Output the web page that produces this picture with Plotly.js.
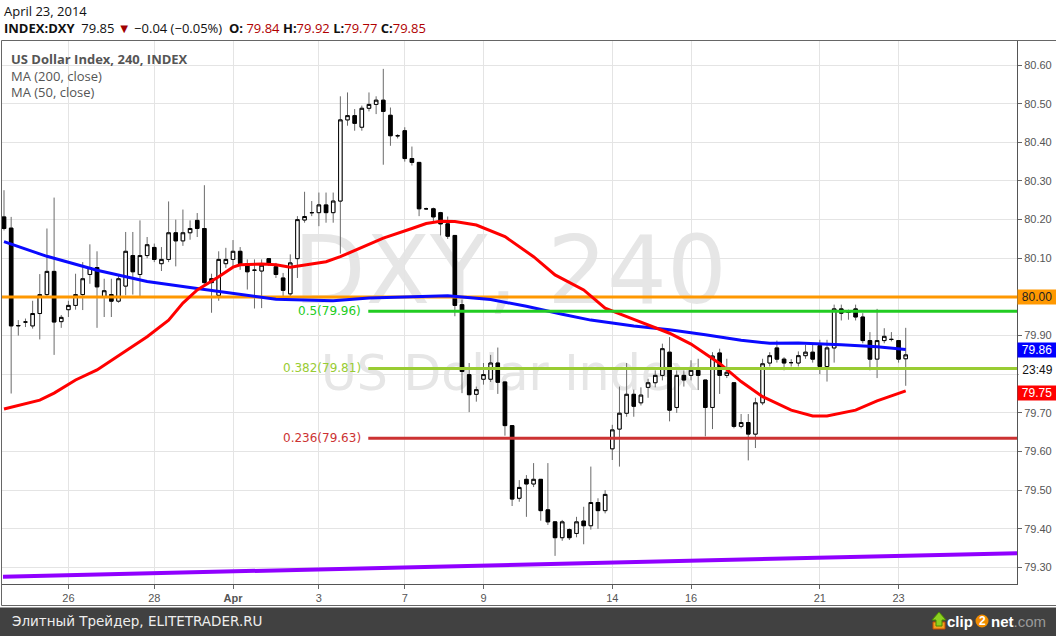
<!DOCTYPE html>
<html><head><meta charset="utf-8">
<script src="https://cdn.plot.ly/plotly-3.0.1.min.js"></script>
<style>html,body{margin:0;padding:0;background:#fff;overflow:hidden}#chart{width:1056px;height:636px}</style>
</head><body><div id="chart"></div>
<script>
// ---------- data (4-hour candles, index 1..127) ----------
const candleIndex = Array.from({length: 127}, (_, i) => i + 1);
const open = [
80.207,80.178,79.925,79.935,79.925,79.957,80.006,80.066,79.936,79.967,
79.978,80.006,80.058,80.076,80.000,80.006,79.989,80.028,80.107,80.058,
80.107,80.128,80.086,80.097,80.166,80.145,80.166,80.198,80.177,80.047,
80.004,80.086,80.097,80.118,80.086,80.069,80.067,80.099,80.078,80.049,
80.008,80.099,80.199,80.218,80.218,80.238,80.218,80.248,80.458,80.469,
80.439,80.488,80.498,80.509,80.470,80.417,80.430,80.358,80.348,80.228,
80.228,80.218,80.189,80.159,79.980,79.799,79.748,79.787,79.787,79.829,
79.780,79.667,79.479,79.528,79.516,79.528,79.449,79.418,79.377,79.398,
79.388,79.420,79.408,79.468,79.447,79.607,79.658,79.699,79.748,79.726,
79.766,79.778,79.797,79.857,79.714,79.797,79.797,79.810,79.785,79.714,
79.855,79.797,79.778,79.665,79.675,79.645,79.726,79.829,79.868,79.839,
79.830,79.829,79.848,79.857,79.874,79.820,79.868,79.969,79.960,79.969,
79.948,79.887,79.839,79.887,79.890,79.887,79.840];
const high = [
80.276,80.207,79.940,79.944,79.990,80.059,80.177,80.257,79.953,79.990,
80.060,80.090,80.136,80.118,80.047,80.047,80.059,80.168,80.168,80.198,
80.155,80.138,80.129,80.247,80.200,80.226,80.198,80.217,80.289,80.060,
80.118,80.127,80.147,80.129,80.097,80.097,80.097,80.100,80.088,80.062,
80.110,80.209,80.272,80.248,80.270,80.270,80.270,80.519,80.529,80.486,
80.495,80.529,80.519,80.590,80.490,80.421,80.439,80.389,80.348,80.231,
80.231,80.220,80.208,80.159,79.993,79.829,79.768,79.829,79.850,79.869,
79.780,79.667,79.526,79.539,79.570,79.528,79.570,79.418,79.423,79.401,
79.431,79.457,79.561,79.479,79.500,79.669,79.768,79.829,79.760,79.766,
79.788,79.810,79.879,79.896,79.810,79.810,79.836,79.840,79.785,79.857,
79.866,79.840,79.778,79.697,79.697,79.739,79.840,79.857,79.887,79.844,
79.839,79.859,79.876,79.876,79.889,79.889,79.980,79.980,79.967,79.980,
79.958,79.909,79.969,79.919,79.909,79.887,79.920];
const low = [
80.172,79.750,79.900,79.922,79.918,79.890,80.000,79.850,79.920,79.948,
79.967,79.966,80.034,79.920,79.948,79.948,79.985,80.004,80.006,80.000,
80.100,80.090,80.067,80.090,80.079,80.132,80.148,80.155,80.030,79.959,
79.990,80.075,80.080,80.070,80.019,79.970,79.971,80.080,80.049,80.002,
80.000,80.049,80.192,80.209,80.183,80.192,80.192,80.112,80.443,80.430,
80.430,80.480,80.473,80.342,80.391,80.410,80.350,80.340,80.209,80.225,
80.196,80.159,80.150,79.950,79.751,79.702,79.729,79.773,79.780,79.749,
79.641,79.459,79.470,79.431,79.508,79.421,79.410,79.330,79.369,79.371,
79.378,79.360,79.398,79.400,79.440,79.578,79.561,79.690,79.690,79.719,
79.739,79.766,79.784,79.678,79.700,79.768,79.784,79.759,79.639,79.658,
79.749,79.790,79.660,79.660,79.577,79.609,79.720,79.820,79.830,79.810,
79.820,79.820,79.840,79.830,79.800,79.781,79.830,79.939,79.941,79.939,
79.880,79.810,79.790,79.880,79.885,79.830,79.770];
const close = [
80.177,79.925,79.926,79.935,79.957,80.006,80.066,79.935,79.947,79.978,
80.006,80.047,80.076,80.026,80.016,79.989,80.047,80.118,80.065,80.107,
80.135,80.097,80.097,80.166,80.145,80.166,80.177,80.177,80.037,80.037,
80.097,80.097,80.118,80.086,80.065,80.069,80.082,80.087,80.058,80.017,
80.088,80.200,80.208,80.218,80.238,80.218,80.248,80.458,80.469,80.449,
80.488,80.498,80.509,80.480,80.417,80.417,80.358,80.348,80.228,80.228,
80.207,80.189,80.157,79.978,79.807,79.747,79.760,79.799,79.829,79.779,
79.667,79.477,79.507,79.516,79.528,79.447,79.418,79.377,79.418,79.377,
79.418,79.408,79.468,79.447,79.489,79.656,79.699,79.748,79.717,79.746,
79.778,79.797,79.866,79.707,79.797,79.785,79.810,79.797,79.714,79.847,
79.797,79.805,79.665,79.675,79.645,79.726,79.827,79.848,79.839,79.829,
79.830,79.848,79.857,79.839,79.820,79.868,79.969,79.958,79.960,79.948,
79.887,79.839,79.887,79.898,79.890,79.839,79.850];

// moving averages
const ma200Index = [1,7,14,21,28,33,37,39,43,47,52,57,63,69,74,79,83,89,94,99,104,108,112,118,123,127];
const ma200Value = [80.143,80.105,80.069,80.040,80.022,80.009,80.000,79.994,79.992,79.990,79.997,80.000,80.003,79.993,79.976,79.955,79.940,79.925,79.915,79.902,79.888,79.880,79.881,79.876,79.871,79.864];
const ma50Index = [1,6,8,11,14,19,21,24,26,28,31,33,34,37,39,41,46,48,50,54,58,60,62,64,67,71,75,78,82,85,89,94,97,101,104,107,111,114,116,120,123,127];
const ma50Value = [79.710,79.733,79.751,79.785,79.811,79.871,79.897,79.940,79.984,80.018,80.052,80.077,80.083,80.085,80.083,80.077,80.091,80.104,80.120,80.152,80.177,80.190,80.196,80.195,80.186,80.156,80.104,80.057,80.018,79.971,79.942,79.906,79.878,79.828,79.781,79.742,79.707,79.692,79.692,79.707,79.731,79.757];

// horizontal levels
const resistanceLevel = 80.00;
const fibLevels = [79.963, 79.815, 79.634];
const fibLabels = ['0.5(79.96)', '0.382(79.81)', '0.236(79.63)'];
const fibStartIndex = 51.9;
// long-term trend line (two anchor points)
const trendIndex = [0.86, 142.55];
const trendValue = [79.276, 79.337];

// axis ticks
const dayTickIndex = [10, 22, 33, 45, 57, 68, 86, 97, 115, 126];
const dayTickLabels = ['26', '28', '<b>Apr</b>', '3', '7', '9', '14', '16', '21', '23'];
const priceTicks = [79.3,79.4,79.5,79.6,79.7,79.8,79.9,80.0,80.1,80.2,80.3,80.4,80.5,80.6];
// tick labels hidden behind the price flags in the picture
const hiddenPriceTicks = [79.8, 80.0];

// ---------- layout helpers ----------
const L = 2, R = 1017, T = 40, B = 584;
const px = x => (x - L) / (R - L);
const py = y => (B - y) / (B - T);
const xRange = [0.7205, 142.55];
const yRange = [79.2572, 80.6647];

const bodyHigh = open.map((o, i) => Math.max(o, close[i]));
const bodyLow = open.map((o, i) => Math.min(o, close[i]));

const fibColors = ['#22cc22', '#99cc33', '#cc3333'];

const traces = [
  { type: 'candlestick', x: candleIndex, open, high, low, close,
    increasing: { line: { color: '#6a6a6a', width: 1 }, fillcolor: '#ffffff' },
    decreasing: { line: { color: '#6a6a6a', width: 1 }, fillcolor: '#000000' },
    whiskerwidth: 0, showlegend: false, hoverinfo: 'skip' },
  { type: 'candlestick', x: candleIndex, open, high: bodyHigh, low: bodyLow, close,
    increasing: { line: { color: '#000000', width: 1 }, fillcolor: '#ffffff' },
    decreasing: { line: { color: '#000000', width: 1 }, fillcolor: '#000000' },
    whiskerwidth: 0, showlegend: false, hoverinfo: 'skip' },
  { type: 'scatter', mode: 'lines', x: [xRange[0], xRange[1]], y: [resistanceLevel, resistanceLevel],
    line: { color: '#ff9800', width: 3 }, showlegend: false },
  { type: 'scatter', mode: 'lines', x: ma200Index, y: ma200Value,
    line: { color: '#0a0aff', width: 3 }, showlegend: false },
  { type: 'scatter', mode: 'lines', x: ma50Index, y: ma50Value,
    line: { color: '#ff0000', width: 3 }, showlegend: false },
  { type: 'scatter', mode: 'lines', x: trendIndex, y: trendValue,
    line: { color: '#9000ff', width: 4 }, showlegend: false }
];
fibLevels.forEach((lv, k) => traces.push({
  type: 'scatter', mode: 'lines', x: [fibStartIndex, xRange[1]], y: [lv, lv],
  line: { color: fibColors[k], width: 3 }, showlegend: false }));

const axFont = { family: 'Liberation Sans, Arial, sans-serif', size: 11, color: '#555' };
const hdrFont = { family: 'Open Sans, sans-serif', size: 13, color: '#111' };
const logoFont = { family: 'Liberation Sans, Arial, sans-serif', size: 15, color: '#ffffff' };
const val = t => '<span style="color:#b00000">' + t + '</span>';

const annotations = [
  { xref: 'paper', yref: 'paper', x: px(2), y: py(11), xanchor: 'left', yanchor: 'middle',
    text: 'April 23, 2014', showarrow: false, font: hdrFont },
  { xref: 'paper', yref: 'paper', x: px(2), y: py(28), xanchor: 'left', yanchor: 'middle', showarrow: false,
    font: hdrFont,
    text: '<b>INDEX:DXY</b>  79.85 <span style="color:#a00000">▼</span> −0.04 (−0.05%)  <b>O:</b> ' + val('79.84') +
      ' <b>H:</b>' + val('79.92') + ' <b>L:</b>' + val('79.77') + ' <b>C:</b>' + val('79.85') },
  { xref: 'paper', yref: 'paper', x: px(9), y: py(59), xanchor: 'left', yanchor: 'middle', showarrow: false,
    text: '<b>US Dollar Index, 240, INDEX</b>', font: { family: 'Open Sans, sans-serif', size: 13, color: '#555' } },
  { xref: 'paper', yref: 'paper', x: px(9), y: py(76), xanchor: 'left', yanchor: 'middle', showarrow: false,
    text: 'MA (200, close)', font: { family: 'Open Sans, sans-serif', size: 13, color: '#555' } },
  { xref: 'paper', yref: 'paper', x: px(9), y: py(92), xanchor: 'left', yanchor: 'middle', showarrow: false,
    text: 'MA (50, close)', font: { family: 'Open Sans, sans-serif', size: 13, color: '#555' } },
  // right-hand price flags
  { xref: 'paper', yref: 'y', x: px(1017), y: 80.00, xanchor: 'left', yanchor: 'middle', showarrow: false,
    text: '80.00', bgcolor: '#ff9800', width: 38, height: 14, borderpad: 0,
    font: { family: 'Liberation Sans, Arial, sans-serif', size: 12, color: '#222' } },
  { xref: 'paper', yref: 'y', x: px(1017), y: 79.863, xanchor: 'left', yanchor: 'middle', showarrow: false,
    text: '79.86', bgcolor: '#0000ff', width: 38, height: 14, borderpad: 0,
    font: { family: 'Liberation Sans, Arial, sans-serif', size: 12, color: '#ffffff' } },
  { xref: 'paper', yref: 'y', x: px(1018), y: 79.811, xanchor: 'left', yanchor: 'middle', showarrow: false,
    text: '23:49', bgcolor: '#ffffff', width: 37, height: 14, borderpad: 0,
    font: { family: 'Liberation Sans, Arial, sans-serif', size: 12, color: '#111' } },
  { xref: 'paper', yref: 'y', x: px(1017), y: 79.751, xanchor: 'left', yanchor: 'middle', showarrow: false,
    text: '79.75', bgcolor: '#ff0000', width: 38, height: 14, borderpad: 0,
    font: { family: 'Liberation Sans, Arial, sans-serif', size: 12, color: '#ffffff' } },
  // footer
  { xref: 'paper', yref: 'paper', x: px(10), y: py(621), xanchor: 'left', yanchor: 'middle', showarrow: false,
    text: 'Элитный Трейдер, ELITETRADER.RU', font: { family: 'DejaVu Sans, sans-serif', size: 13.5, color: '#eeeeee' } },
  { xref: 'paper', yref: 'paper', x: px(975), y: py(621), xanchor: 'right', yanchor: 'middle', showarrow: false,
    text: '<b>clip</b>', font: logoFont },
  { xref: 'paper', yref: 'paper', x: px(982), y: py(621), xanchor: 'center', yanchor: 'middle', showarrow: false,
    text: '<b>2</b>', font: { family: 'Liberation Sans, Arial, sans-serif', size: 12, color: '#ffffff' } },
  { xref: 'paper', yref: 'paper', x: px(989), y: py(621), xanchor: 'left', yanchor: 'middle', showarrow: false,
    text: '<b>net</b><span style="color:#9a9a9a">.com</span>', font: logoFont }
];
fibLabels.forEach((t, k) => annotations.push({
  xref: 'paper', yref: 'y', x: px(363), y: fibLevels[k], xanchor: 'right', yanchor: 'middle', showarrow: false,
  text: t, font: { family: 'DejaVu Sans, sans-serif', size: 12, color: fibColors[k] } }));

const shapes = [
  { type: 'rect', xref: 'paper', yref: 'paper', x0: px(250), x1: px(770), y0: py(300), y1: py(226),
    line: { width: 0 }, fillcolor: 'rgba(0,0,0,0)', layer: 'below',
    label: { text: 'DXY, 240', textposition: 'middle center',
      font: { family: 'DejaVu Sans, sans-serif', size: 94, color: '#e6e6e6' } } },
  { type: 'rect', xref: 'paper', yref: 'paper', x0: px(300), x1: px(720), y0: py(395), y1: py(343),
    line: { width: 0 }, fillcolor: 'rgba(0,0,0,0)', layer: 'below',
    label: { text: 'US Dollar Index', textposition: 'middle center',
      font: { family: 'DejaVu Sans, sans-serif', size: 49, color: '#e6e6e6' } } },
  // outer frame
  { type: 'rect', xref: 'paper', yref: 'paper', x0: px(1.5), x1: px(1058), y0: py(605.5), y1: py(40.5),
    line: { color: '#666', width: 1 }, fillcolor: 'rgba(0,0,0,0)', layer: 'above' },
  // footer band
  { type: 'rect', xref: 'paper', yref: 'paper', x0: px(-2), x1: px(1060), y0: py(640), y1: py(607.5),
    line: { width: 0 }, fillcolor: '#414141', layer: 'above' },
  // clip2net icon
  { type: 'rect', xref: 'paper', yref: 'paper', x0: px(933), x1: px(945), y0: py(629), y1: py(622),
    line: { color: '#c84800', width: 1 }, fillcolor: '#f0a020', layer: 'above' },
  { type: 'path', xref: 'paper', yref: 'paper',
    path: `M ${px(932)},${py(620)} L ${px(939)},${py(612)} L ${px(946)},${py(620)} L ${px(942)},${py(620)} L ${px(942)},${py(626)} L ${px(936)},${py(626)} L ${px(936)},${py(620)} Z`,
    line: { color: '#4a8a00', width: 1 }, fillcolor: '#8cd020', layer: 'above' },
  { type: 'circle', xref: 'paper', yref: 'paper', x0: px(975.5), x1: px(988.5), y0: py(627.5), y1: py(614.5),
    line: { width: 0 }, fillcolor: '#f08c00', layer: 'above' }
];

const layout = {
  width: 1056, height: 636,
  margin: { l: L, r: 1056 - R, t: T, b: 636 - B, pad: 0 },
  paper_bgcolor: '#ffffff', plot_bgcolor: '#ffffff',
  showlegend: false,
  xaxis: {
    type: 'linear', range: xRange, rangeslider: { visible: false },
    tickmode: 'array', tickvals: dayTickIndex, ticktext: dayTickLabels,
    showgrid: true, gridcolor: '#e4e4e4', gridwidth: 1, zeroline: false,
    ticks: 'outside', ticklen: 4, tickcolor: '#666',
    showline: true, linecolor: '#555', linewidth: 1, mirror: false,
    tickfont: axFont, fixedrange: true
  },
  yaxis: {
    side: 'right', range: yRange, tickmode: 'array', tickvals: priceTicks,
    ticktext: priceTicks.map(v => hiddenPriceTicks.some(h => Math.abs(h - v) < 1e-9) ? '' : v.toFixed(2)),
    showgrid: true, gridcolor: '#e4e4e4', gridwidth: 1, zeroline: false,
    ticks: 'outside', ticklen: 4, tickcolor: '#666',
    showline: true, linecolor: '#555', linewidth: 1,
    tickfont: axFont, fixedrange: true
  },
  annotations, shapes
};

Plotly.newPlot('chart', traces, layout, { staticPlot: true, displayModeBar: false });
</script>
</body></html>
